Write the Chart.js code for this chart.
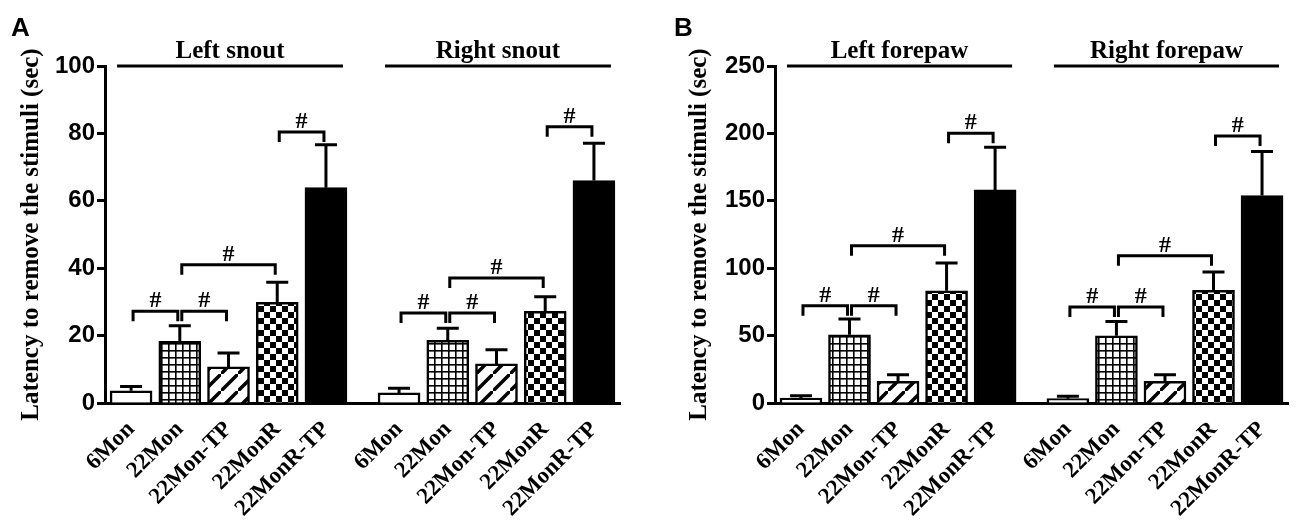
<!DOCTYPE html>
<html>
<head>
<meta charset="utf-8">
<script src="https://cdn.jsdelivr.net/npm/chart.js@4.4.0/dist/chart.umd.min.js"></script>
<style>
  body { margin: 0; background: #fff; }
  #wrap { position: relative; width: 1300px; height: 527px; overflow: hidden; }
  .panel { position: absolute; top: 0; width: 650px; height: 527px; }
  #panelA { left: 0; }
  #panelB { left: 650px; }
  .letter { position: absolute; top: 12px; line-height: 1; font: bold 26px 'Liberation Sans', Arial, sans-serif; color: #000; }
</style>
</head>
<body>
<div id="wrap">
  <div class="panel" id="panelA"><canvas id="chartA" width="650" height="527"></canvas></div>
  <div class="panel" id="panelB"><canvas id="chartB" width="650" height="527"></canvas></div>
  <div class="letter" style="left:11px">A</div>
  <div class="letter" style="left:674px">B</div>
</div>
<script>
const categories = ['6Mon', '22Mon', '22Mon-TP', '22MonR', '22MonR-TP'];
const yTitle = 'Latency to remove the stimuli (sec)';

// Panel A - snout
const snoutSides = ['Left snout', 'Right snout'];
const leftSnoutMean = [3.6, 18.3, 10.7, 29.9, 63.9];
const leftSnoutSem = [1.3, 4.6, 4.1, 5.9, 12.7];
const rightSnoutMean = [3.0, 18.6, 11.6, 27.2, 66.0];
const rightSnoutSem = [1.4, 3.6, 4.2, 4.3, 11.1];
const leftSnoutSig = [27.2, 27.2, 41.0, 80.4];
const rightSnoutSig = [26.7, 26.7, 37.1, 82.0];
const snoutTicks = [0, 20, 40, 60, 80, 100];

// Panel B - forepaw
const forepawSides = ['Left forepaw', 'Right forepaw'];
const leftForepawMean = [3.7, 50.6, 16.0, 83.2, 158.1];
const leftForepawSem = [1.7, 11.7, 5.0, 20.6, 31.7];
const rightForepawMean = [3.2, 49.9, 16.0, 83.5, 153.9];
const rightForepawSem = [1.8, 10.6, 5.0, 13.6, 32.6];
const leftForepawSig = [72.1, 72.1, 116.6, 200.1];
const rightForepawSig = [71.2, 71.2, 109.2, 198.0];
const forepawTicks = [0, 50, 100, 150, 200, 250];

// "#" comparisons, same in every group (indexes into categories)
const sigPairs = [[0, 1], [1, 2], [1, 3], [3, 4]];

const SERIF = "'Liberation Serif', 'Times New Roman', serif";
const SANS = "'Liberation Sans', Arial, sans-serif";
const GROUP_STEP = 5.5; // second group starts half a bar-slot further

function makePattern(kind) {
    if (kind === 'white') return '#fff';
    if (kind === 'black') return '#000';
    const c = document.createElement('canvas');
    const g = c.getContext('2d');
    if (kind === 'grid') {
        c.width = c.height = 7;
        g.fillStyle = '#fff'; g.fillRect(0, 0, 7, 7);
        g.fillStyle = '#000';
        g.fillRect(0, 0, 1.6, 7);
        g.fillRect(0, 0, 7, 1.6);
    } else if (kind === 'diag') {
        const n = 17;
        c.width = c.height = n;
        g.fillStyle = '#fff'; g.fillRect(0, 0, n, n);
        g.strokeStyle = '#000'; g.lineWidth = 3.5;
        g.beginPath();
        g.moveTo(-3, n + 3); g.lineTo(n + 3, -3);
        g.moveTo(-n - 3, 3); g.lineTo(3, -n - 3);
        g.moveTo(n - 3, 2 * n + 3); g.lineTo(2 * n + 3, n - 3);
        g.stroke();
    } else if (kind === 'checker') {
        c.width = c.height = 12;
        g.fillStyle = '#fff'; g.fillRect(0, 0, 12, 12);
        g.fillStyle = '#000';
        g.fillRect(0, 0, 6, 6);
        g.fillRect(6, 6, 6, 6);
    }
    return g.createPattern(c, 'repeat');
}
const fillKinds = ['white', 'grid', 'diag', 'checker', 'black'];

function makeChart(id, p) {
    const xs = [], ys = [], errs = [], fills = [], labels = [];
    const patterns = fillKinds.map(makePattern);
    p.means.forEach((means, gi) => {
        means.forEach((m, i) => {
            xs.push(gi * GROUP_STEP + i);
            ys.push(m);
            errs.push(p.sems[gi][i]);
            fills.push(patterns[i]);
            labels.push(categories[i]);
        });
    });

    const annotate = {
        id: 'annotate',
        afterDatasetsDraw(chart) {
            const { ctx, chartArea, scales: { x, y } } = chart;
            ctx.save();
            ctx.strokeStyle = '#000';
            ctx.fillStyle = '#000';
            ctx.lineWidth = 3;
            ctx.lineCap = 'butt';

            // error bars (upper only)
            xs.forEach((xv, k) => {
                const cx = x.getPixelForValue(xv);
                const base = y.getPixelForValue(ys[k]);
                const top = y.getPixelForValue(ys[k] + errs[k]);
                ctx.beginPath();
                ctx.moveTo(cx, base);
                ctx.lineTo(cx, top);
                ctx.moveTo(cx - 11, top);
                ctx.lineTo(cx + 11, top);
                ctx.stroke();
            });

            // significance brackets
            ctx.font = 'bold 24px ' + SERIF;
            ctx.textAlign = 'center';
            ctx.textBaseline = 'alphabetic';
            p.sig.forEach((heights, gi) => {
                sigPairs.forEach(([a, b], pi) => {
                    const x1 = x.getPixelForValue(gi * GROUP_STEP + a) + 2;
                    const x2 = x.getPixelForValue(gi * GROUP_STEP + b) - 2;
                    const yy = y.getPixelForValue(heights[pi]);
                    ctx.beginPath();
                    ctx.moveTo(x1, yy + 10);
                    ctx.lineTo(x1, yy);
                    ctx.lineTo(x2, yy);
                    ctx.lineTo(x2, yy + 10);
                    ctx.stroke();
                    ctx.fillText('#', (x1 + x2) / 2, yy - 4);
                });
            });

            // group headers
            ctx.font = 'bold 25px ' + SERIF;
            p.sides.forEach((name, gi) => {
                const xa = x.getPixelForValue(gi * GROUP_STEP) - 14;
                const xb = x.getPixelForValue(gi * GROUP_STEP + categories.length - 1) + 17;
                const yt = chartArea.top;
                ctx.beginPath();
                ctx.moveTo(xa, yt);
                ctx.lineTo(xb, yt);
                ctx.stroke();
                ctx.fillText(name, (xa + xb) / 2, yt - 8);
            });
            ctx.restore();
        }
    };

    return new Chart(document.getElementById(id), {
        type: 'bar',
        data: {
            datasets: [{
                data: xs.map((xv, k) => ({ x: xv, y: ys[k] })),
                backgroundColor: fills,
                borderColor: '#000',
                borderWidth: 2.5,
                barThickness: 42
            }]
        },
        options: {
            responsive: false,
            animation: false,
            layout: { padding: { top: 66, right: p.padRight, left: 0, bottom: 0 } },
            plugins: { legend: { display: false }, tooltip: { enabled: false } },
            scales: {
                x: {
                    type: 'linear',
                    min: -0.535,
                    max: 10.035,
                    offset: false,
                    grid: { display: false },
                    border: { display: true, color: '#000', width: 3 },
                    afterBuildTicks: s => { s.ticks = xs.map(v => ({ value: v })); },
                    afterFit: s => { s.height = 124; },
                    ticks: {
                        autoSkip: false,
                        minRotation: 45,
                        maxRotation: 45,
                        padding: 5,
                        color: '#000',
                        font: { family: SERIF, size: 23, weight: 'bold' },
                        callback: (v, i) => labels[i]
                    }
                },
                y: {
                    min: 0,
                    max: p.ticks[p.ticks.length - 1],
                    afterBuildTicks: s => { s.ticks = p.ticks.map(v => ({ value: v })); },
                    afterFit: s => { s.width = p.axisX; },
                    grid: { drawOnChartArea: false, drawTicks: true, tickLength: 8, tickWidth: 3, tickColor: '#000' },
                    border: { display: true, color: '#000', width: 3 },
                    ticks: {
                        padding: 2,
                        color: '#000',
                        font: { family: SANS, size: 24, weight: 'bold' }
                    },
                    title: {
                        display: true,
                        text: yTitle,
                        color: '#000',
                        font: { family: SERIF, size: 25, weight: 'bold' },
                        padding: { top: p.titlePad, bottom: 0 }
                    }
                }
            }
        },
        plugins: [annotate]
    });
}

makeChart('chartA', {
    sides: snoutSides,
    means: [leftSnoutMean, rightSnoutMean],
    sems: [leftSnoutSem, rightSnoutSem],
    sig: [leftSnoutSig, rightSnoutSig],
    ticks: snoutTicks,
    axisX: 105,
    padRight: 30,
    titlePad: 17
});

makeChart('chartB', {
    sides: forepawSides,
    means: [leftForepawMean, rightForepawMean],
    sems: [leftForepawSem, rightForepawSem],
    sig: [leftForepawSig, rightForepawSig],
    ticks: forepawTicks,
    axisX: 125,
    padRight: 12,
    titlePad: 35
});
</script>
</body>
</html>
